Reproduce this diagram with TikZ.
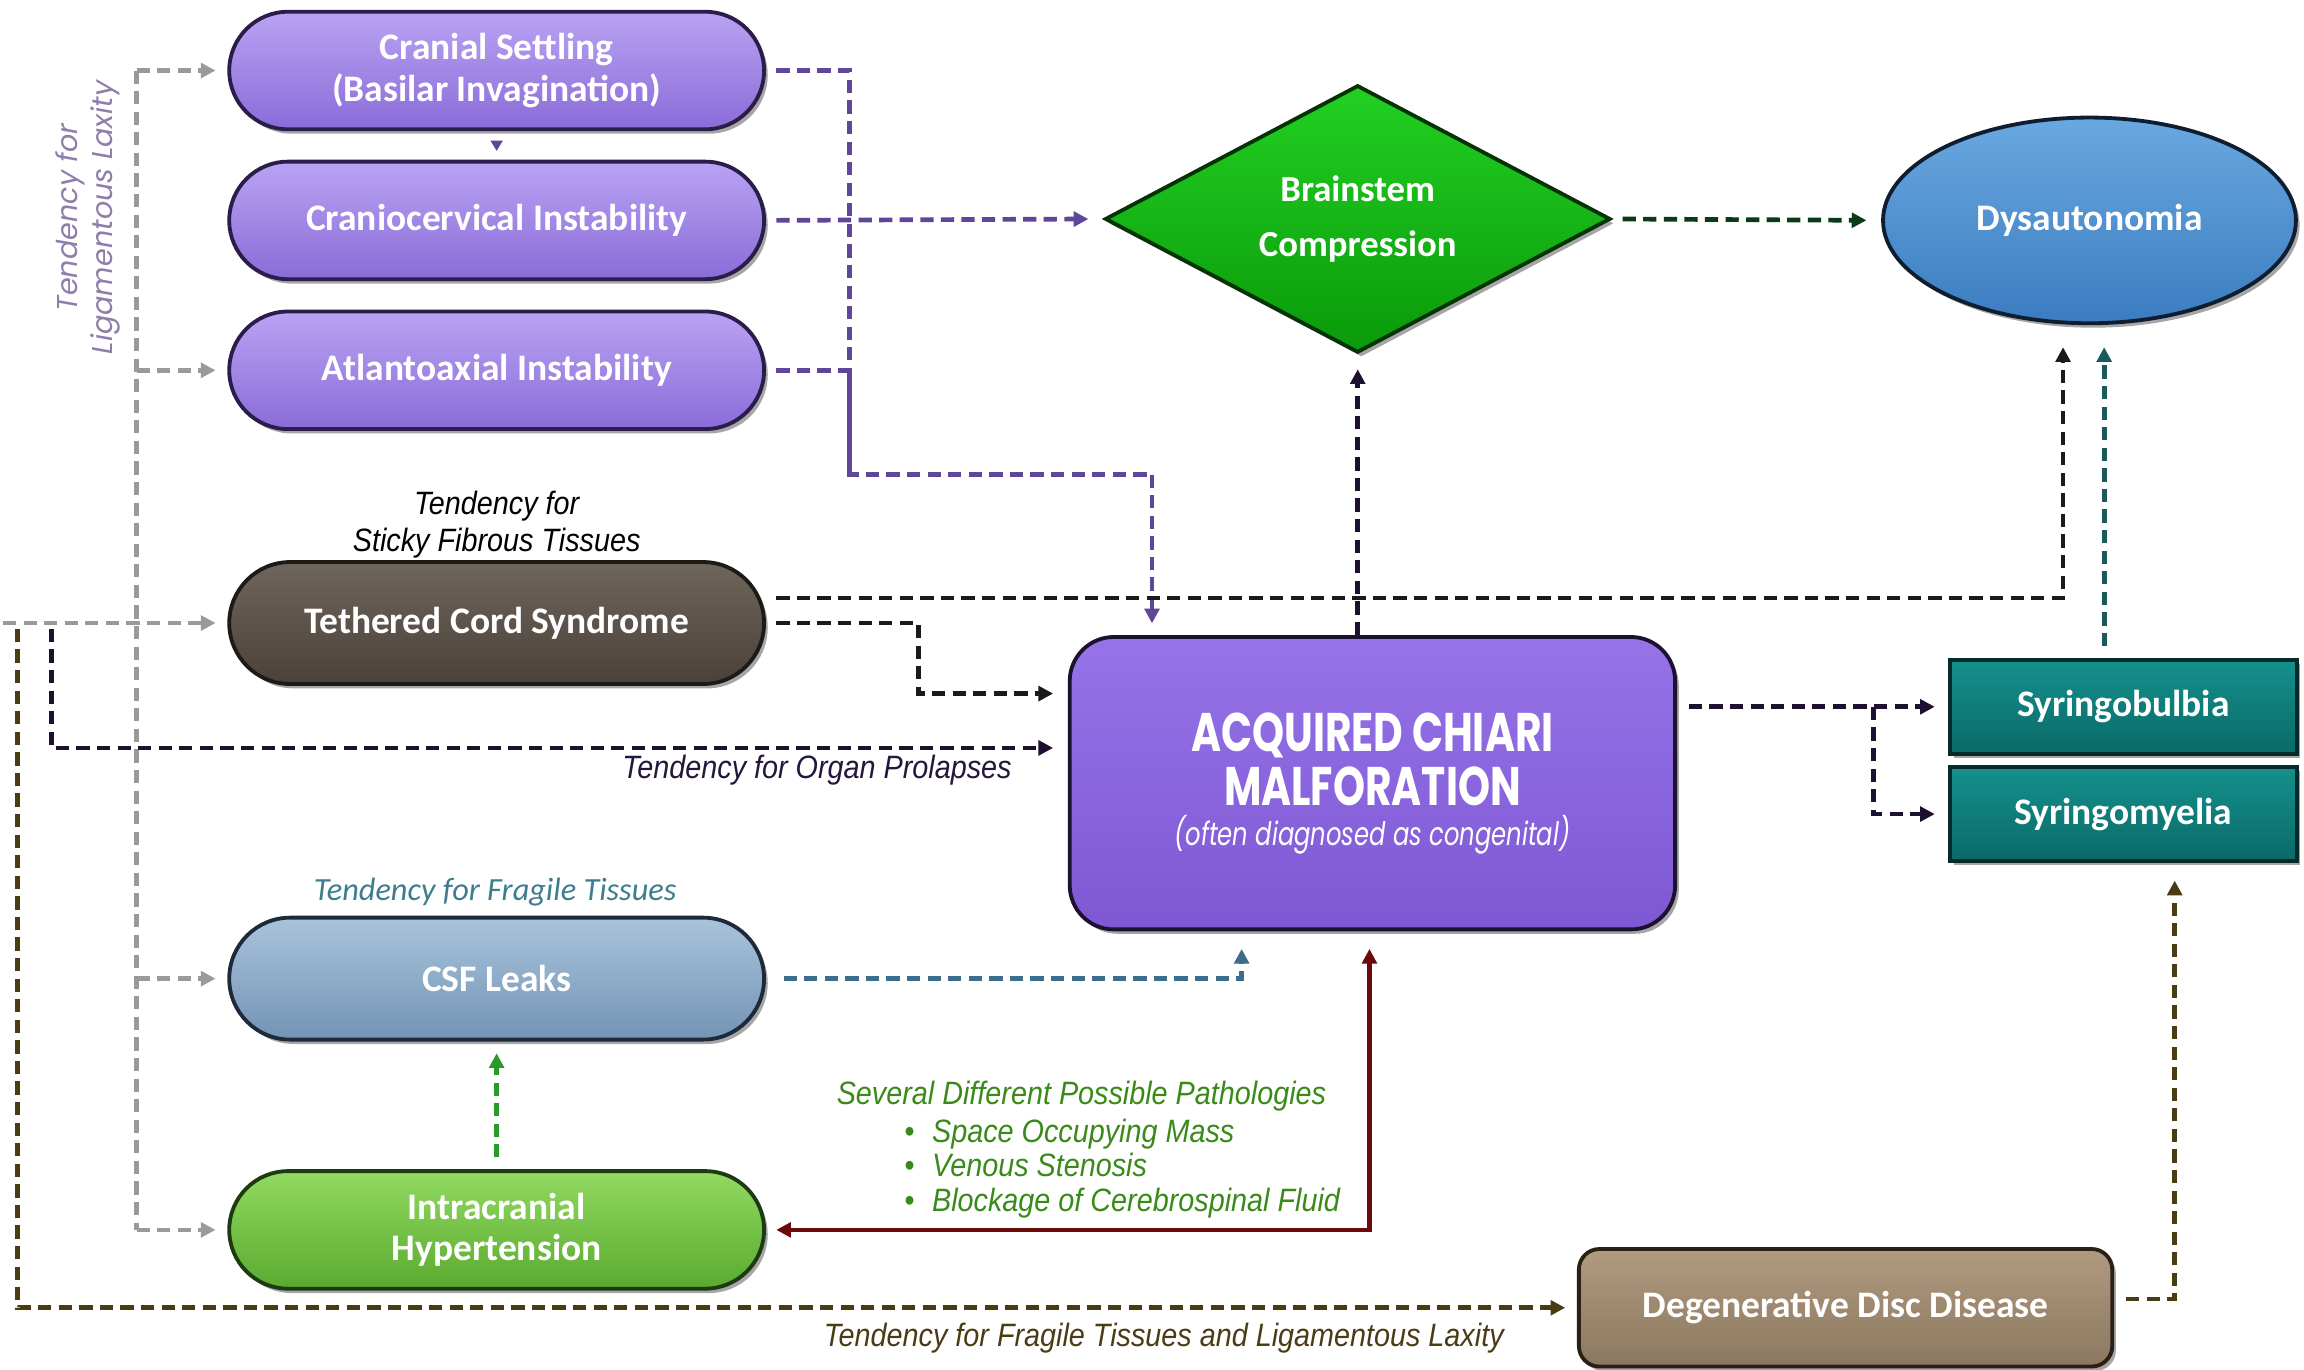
\documentclass[tikz,border=0pt]{standalone}
\usepackage{fontspec}
\setmainfont{Carlito}
\newfontfamily\narrowit{Liberation Sans}[FakeStretch=0.89]
\newfontfamily\gothic{Poppins}
\newfontfamily\chiarifont{Poppins}[FakeStretch=0.75]
\usetikzlibrary{arrows.meta,shapes.geometric,shapes.misc,shadows}

\definecolor{ptop}{HTML}{B9A3F3}
\definecolor{pbot}{HTML}{8A6CD8}
\definecolor{pborder}{HTML}{2B1D4A}
\definecolor{ttop}{HTML}{6E655C}
\definecolor{tbot}{HTML}{4A423A}
\definecolor{tborder}{HTML}{1E1A16}
\definecolor{ctop}{HTML}{A9C3DC}
\definecolor{cbot}{HTML}{7394B4}
\definecolor{cborder}{HTML}{1E2A3A}
\definecolor{itop}{HTML}{92DA62}
\definecolor{ibot}{HTML}{5AAA30}
\definecolor{iborder}{HTML}{1E3A10}
\definecolor{btop}{HTML}{22D022}
\definecolor{bbot}{HTML}{0A9A0A}
\definecolor{bborder}{HTML}{063306}
\definecolor{dtop}{HTML}{6AA8E0}
\definecolor{dbot}{HTML}{3A7CC0}
\definecolor{dborder}{HTML}{0E1E30}
\definecolor{chtop}{HTML}{9673E8}
\definecolor{chbot}{HTML}{7E58D4}
\definecolor{chborder}{HTML}{1C1230}
\definecolor{stop}{HTML}{14908C}
\definecolor{sbot}{HTML}{0A6A68}
\definecolor{sborder}{HTML}{062A2A}
\definecolor{ddtop}{HTML}{B09A80}
\definecolor{ddbot}{HTML}{8C7860}
\definecolor{ddborder}{HTML}{2A2016}
% connector colours
\definecolor{cgray}{HTML}{9A9A9A}
\definecolor{cpurple}{HTML}{5F4699}
\definecolor{cdkgreen}{HTML}{0A3A1A}
\definecolor{cdkpurple}{HTML}{1E1030}
\definecolor{cblack}{HTML}{1A1A1A}
\definecolor{csteel}{HTML}{3A6E8C}
\definecolor{cred}{HTML}{6B0A0A}
\definecolor{cgreen}{HTML}{2A9A2A}
\definecolor{cbrown}{HTML}{4A3C12}
\definecolor{cteal}{HTML}{1A5A5A}
% label colours
\definecolor{laxcol}{HTML}{8E7EAA}
\definecolor{fragcol}{HTML}{3D7D8E}
\definecolor{organcol}{HTML}{24163D}
\definecolor{pathcol}{HTML}{3A8A1A}
\definecolor{fraglcol}{HTML}{4A3C14}

\begin{document}
\begin{tikzpicture}[x=1pt,y=-1pt,
  lbl/.style={font=\fontsize{25.5}{28}\selectfont\bfseries, text=white, align=center, line width=2.6pt,
    drop shadow={shadow xshift=2.5pt,shadow yshift=-3pt,opacity=0.35,fill=black}},
  pill/.style={lbl, rounded rectangle, minimum width=364pt, minimum height=80pt, inner sep=0pt},
  purplepill/.style={pill, draw=pborder, top color=ptop, bottom color=pbot},
  dl/.style={line width=3.2pt, dash pattern=on 9pt off 5pt},
  arrowed/.style={-{Triangle[length=10pt,width=10pt]}},
  italabel/.style={font=\narrowit\itshape\fontsize{22}{25}\selectfont, align=center},
]
\fill[white] (0,0) rectangle (1568,932);
\useasboundingbox (0,0) rectangle (1568,932);

% ---------- nodes ----------
\node[purplepill, font=\fontsize{25.5}{28}\selectfont\bfseries] (cranial) at (338,48) {Cranial Settling\\(Basilar Invagination)};
\node[purplepill] (cranio) at (338,150) {Craniocervical Instability};
\node[purplepill] (atlanto) at (338,252) {Atlantoaxial Instability};
\node[pill, draw=tborder, top color=ttop, bottom color=tbot, minimum height=83pt] (teth) at (338,424) {Tethered Cord Syndrome};
\node[pill, draw=cborder, top color=ctop, bottom color=cbot, minimum height=83pt] (csf) at (338,666) {CSF Leaks};
\node[pill, draw=iborder, top color=itop, bottom color=ibot, font=\fontsize{25.5}{28}\selectfont\bfseries] (ih) at (338,837) {Intracranial\\Hypertension};
\node[lbl, diamond, aspect=1.9, minimum width=344pt, minimum height=182pt, inner sep=0pt,
  draw=bborder, top color=btop, bottom color=bbot, font=\fontsize{25}{38}\selectfont\bfseries] (brain) at (924,149) {Brainstem\\Compression};
\node[lbl, ellipse, minimum width=281pt, minimum height=140pt, inner sep=0pt,
  draw=dborder, top color=dtop, bottom color=dbot] (dys) at (1422,150) {Dysautonomia};
\node[lbl, rectangle, rounded corners=30pt, minimum width=412pt, minimum height=199pt, inner sep=0pt,
  draw=chborder, top color=chtop, bottom color=chbot, font=\chiarifont\bfseries\fontsize{37}{37}\selectfont] (chiari) at (934,533)
  {ACQUIRED CHIARI\\MALFORATION\\[-10pt]\mdseries\itshape\fontsize{22}{22}\selectfont (often diagnosed as congenital)};
\node[lbl, rectangle, minimum width=236pt, minimum height=64pt, inner sep=0pt,
  draw=sborder, top color=stop, bottom color=sbot] (syrb) at (1445,481) {Syringobulbia};
\node[lbl, rectangle, minimum width=236pt, minimum height=64pt, inner sep=0pt,
  draw=sborder, top color=stop, bottom color=sbot] (syrm) at (1445,554) {Syringomyelia};
\node[lbl, rectangle, rounded corners=14pt, minimum width=363pt, minimum height=80pt, inner sep=0pt,
  draw=ddborder, top color=ddtop, bottom color=ddbot] (ddd) at (1256,890) {Degenerative Disc Disease};

% ---------- labels ----------
\node[rotate=90, font=\gothic\itshape\fontsize{19.5}{24}\selectfont, text=laxcol, align=center] (lbllax) at (60,148) {Tendency for\\Ligamentous Laxity};
\node[italabel, text=black] (lblsticky) at (338,357) {Tendency for\\Sticky Fibrous Tissues};
\node[font=\itshape\fontsize{22}{24}\selectfont, text=fragcol] (lblfrag) at (337,607) {Tendency for Fragile Tissues};
\node[italabel, text=organcol, anchor=east] (lblorgan) at (692,524) {Tendency for Organ Prolapses};
\node[italabel, text=fraglcol] (lblfragl) at (792,911) {Tendency for Fragile Tissues and Ligamentous Laxity};
\node[italabel, text=pathcol, font=\narrowit\itshape\fontsize{22}{24}\selectfont] (lblpath) at (736,746) {Several Different Possible Pathologies};
\node[italabel, text=pathcol, font=\narrowit\itshape\fontsize{22}{23.5}\selectfont, align=left, anchor=west] (lblbul) at (612,795)
  {\textbullet\hspace{12pt}Space Occupying Mass\\\textbullet\hspace{12pt}Venous Stenosis\\\textbullet\hspace{12pt}Blockage of Cerebrospinal Fluid};

% ---------- coordinates ----------
\coordinate (gtop) at (93,48);
\coordinate (gbot) at (93,837);
\coordinate (gleft) at (2,424);
\coordinate (oleft) at (35,428);
\coordinate (bleft) at (12,428);
\coordinate (pj) at (578,323);
\coordinate (pk) at (784,323);
\coordinate (td) at (1404,407);
\coordinate (sb) at (1275,481);
\coordinate (cc) at (845,666);
\coordinate (rc) at (932,837);
\coordinate (dr) at (1480,884);
\coordinate (tj) at (625,424);

% ---------- connectors ----------
% gray ligamentous laxity
\draw[dl, cgray] (gtop) -- (gbot);
\draw[dl, cgray, arrowed, shorten >=8pt] (gtop) -- (cranial.west);
\draw[dl, cgray, arrowed, shorten >=8pt] (atlanto.west -| gtop) -- (atlanto.west);
\draw[dl, cgray, arrowed, shorten >=8pt] (csf.west -| gtop) -- (csf.west);
\draw[dl, cgray, arrowed, shorten >=8pt] (gbot) -- (ih.west);
\draw[dl, cgray, arrowed, shorten >=8pt] (gleft) -- (teth.west);

% small arrow cranial -> craniocervical
\draw[cpurple, line width=1.5pt, -{Triangle[length=7pt,width=8pt]}, shorten <=7pt, shorten >=6pt] (cranial.south) -- (cranio.north);

% purple
\draw[dl, cpurple, shorten <=7pt] (cranial.east) -| (pj) -- (pk);
\draw[dl, cpurple, shorten <=7pt] (atlanto.east) -| (pj);
\draw[dl, cpurple, arrowed, shorten >=8pt] (pk) -- (pk |- chiari.north);
\draw[dl, cpurple, arrowed, shorten <=7pt, shorten >=10pt] (cranio.east) -- (brain.west);

% brainstem -> dysautonomia
\draw[dl, cdkgreen, arrowed, shorten <=7pt, shorten >=10pt] (brain.east) -- (dys.west);

% chiari -> brainstem
\draw[dl, cdkpurple, arrowed, shorten >=10pt] (chiari.north -| brain.south) -- (brain.south);

% tethered -> dysautonomia
\draw[dl, cblack, arrowed, shorten <=7pt, shorten >=15pt] ([yshift=17pt]teth.east) -- (td) -- (td |- dys.south);
% tethered -> chiari
\draw[dl, cblack, arrowed, shorten <=7pt, shorten >=10pt] (teth.east) -- (tj) |- ([yshift=61pt]chiari.west);
% organ prolapses
\draw[dl, cdkpurple, arrowed, shorten >=10pt] (oleft) |- ([yshift=24pt]chiari.west);

% chiari -> syringo
\draw[dl, cdkpurple, arrowed, shorten <=8pt, shorten >=9pt] (chiari.east |- syrb.west) -- (syrb.west);
\draw[dl, cdkpurple, arrowed, shorten >=9pt] (sb) |- (syrm.west);

% syringobulbia -> dysautonomia
\draw[dl, cteal, arrowed, shorten <=8pt, shorten >=15pt] ([xshift=-13pt]syrb.north) -- ([xshift=-13pt]syrb.north |- dys.south);

% csf -> chiari
\draw[dl, csteel, arrowed, shorten <=12pt, shorten >=12pt] (csf.east) -- (cc) -- (cc |- chiari.south);

% pathologies (solid dark red, both ends)
\draw[cred, line width=3pt, {Triangle[length=10pt,width=10pt]}-{Triangle[length=10pt,width=10pt]}, shorten <=7pt, shorten >=12pt] (ih.east) -- (rc) -- (rc |- chiari.south);

% intracranial hypertension -> csf leaks
\draw[dl, cgreen, arrowed, shorten <=8pt, shorten >=8pt] (ih.north) -- (csf.south);

% fragile tissues & ligamentous laxity -> ddd
\draw[dl, cbrown, arrowed, shorten >=8pt] (bleft) |- (ddd.west);
% ddd -> syringomyelia
\draw[dl, cbrown, arrowed, shorten <=8pt, shorten >=12pt] ([yshift=6pt]ddd.east) -- (dr) -- (dr |- syrm.south);
\end{tikzpicture}
\end{document}
